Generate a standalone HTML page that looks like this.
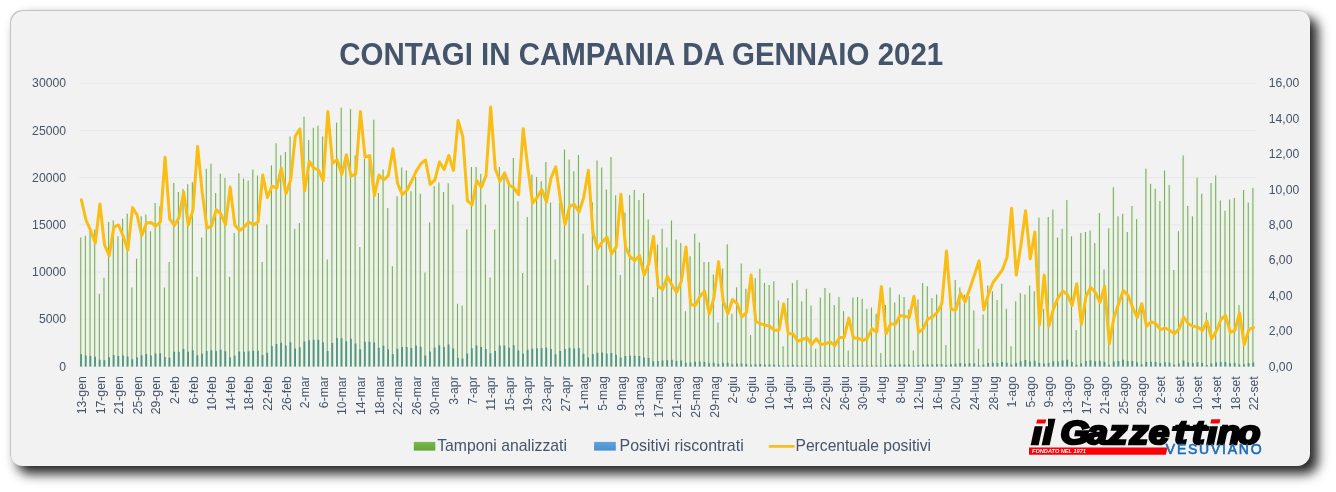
<!DOCTYPE html>
<html lang="it"><head><meta charset="utf-8"><title>Contagi in Campania da gennaio 2021</title>
<style>
html,body{margin:0;padding:0;background:#fff;}
body{width:1336px;height:492px;overflow:hidden;position:relative;font-family:"Liberation Sans",sans-serif;}
#card{position:absolute;left:10px;top:10px;width:1300px;height:455.5px;border-radius:12.5px;background:#f2f2f2;
 box-shadow:inset 1px 1px 0 0 #c2c2c2, 7.5px 7.5px 12px 0px rgba(0,0,0,.85);}
svg{position:absolute;left:0;top:0;}
text{font-family:"Liberation Sans",sans-serif;}
.ax{font-size:12.2px;fill:#44546a;}
.lg{font-size:15.7px;fill:#44546a;}
</style></head><body>
<div id="card"></div>
<svg width="1336" height="492" viewBox="0 0 1336 492">
<defs>
<linearGradient id="gg" x1="0" y1="0" x2="0" y2="1"><stop offset="0" stop-color="#7ab852"/><stop offset="1" stop-color="#63a436"/></linearGradient>
<linearGradient id="gb" x1="0" y1="0" x2="0" y2="1"><stop offset="0" stop-color="#62a3dc"/><stop offset="1" stop-color="#4a8ed1"/></linearGradient>
</defs>
<text x="339.2" y="64.8" font-size="31.3" font-weight="bold" fill="#44546a" textLength="604" lengthAdjust="spacingAndGlyphs">CONTAGI IN CAMPANIA DA GENNAIO 2021</text>
<line x1="79" x2="1255.7" y1="366.40" y2="366.40" stroke="#e4e7eb" stroke-width="1"/>
<line x1="79" x2="1255.7" y1="319.20" y2="319.20" stroke="#e4e7eb" stroke-width="1"/>
<line x1="79" x2="1255.7" y1="272.00" y2="272.00" stroke="#e4e7eb" stroke-width="1"/>
<line x1="79" x2="1255.7" y1="224.80" y2="224.80" stroke="#e4e7eb" stroke-width="1"/>
<line x1="79" x2="1255.7" y1="177.60" y2="177.60" stroke="#e4e7eb" stroke-width="1"/>
<line x1="79" x2="1255.7" y1="130.40" y2="130.40" stroke="#e4e7eb" stroke-width="1"/>
<line x1="79" x2="1255.7" y1="83.20" y2="83.20" stroke="#e4e7eb" stroke-width="1"/>
<text class="ax" x="66" y="370.65" text-anchor="end">0</text>
<text class="ax" x="66" y="323.45" text-anchor="end">5000</text>
<text class="ax" x="66" y="276.25" text-anchor="end">10000</text>
<text class="ax" x="66" y="229.05" text-anchor="end">15000</text>
<text class="ax" x="66" y="181.85" text-anchor="end">20000</text>
<text class="ax" x="66" y="134.65" text-anchor="end">25000</text>
<text class="ax" x="66" y="87.45" text-anchor="end">30000</text>
<text class="ax" x="1268.7" y="370.65">0,00</text>
<text class="ax" x="1268.7" y="335.25">2,00</text>
<text class="ax" x="1268.7" y="299.85">4,00</text>
<text class="ax" x="1268.7" y="264.45">6,00</text>
<text class="ax" x="1268.7" y="229.05">8,00</text>
<text class="ax" x="1268.7" y="193.65">10,00</text>
<text class="ax" x="1268.7" y="158.25">12,00</text>
<text class="ax" x="1268.7" y="122.85">14,00</text>
<text class="ax" x="1268.7" y="87.45">16,00</text>
<path fill="#e9f5e0" fill-opacity="0.62" d="M78.43 366.4V237.54h4.6V366.4zM83.08 366.4V235.79h4.6V366.4zM87.73 366.4V229.52h4.6V366.4zM92.38 366.4V229.52h4.6V366.4zM97.03 366.4V293.71h4.6V366.4zM101.68 366.4V277.66h4.6V366.4zM106.33 366.4V222.06h4.6V366.4zM110.99 366.4V220.55h4.6V366.4zM115.64 366.4V236.32h4.6V366.4zM120.29 366.4V218.85h4.6V366.4zM124.94 366.4V213.85h4.6V366.4zM129.59 366.4V287.48h4.6V366.4zM134.24 366.4V258.78h4.6V366.4zM138.90 366.4V216.30h4.6V366.4zM143.55 366.4V214.56h4.6V366.4zM148.20 366.4V231.31h4.6V366.4zM152.85 366.4V203.09h4.6V366.4zM157.50 366.4V206.30h4.6V366.4zM162.15 366.4V287.48h4.6V366.4zM166.80 366.4V261.99h4.6V366.4zM171.46 366.4V183.08h4.6V366.4zM176.11 366.4V192.09h4.6V366.4zM180.76 366.4V188.93h4.6V366.4zM185.41 366.4V184.21h4.6V366.4zM190.06 366.4V182.13h4.6V366.4zM194.71 366.4V276.72h4.6V366.4zM199.36 366.4V237.54h4.6V366.4zM204.02 366.4V168.87h4.6V366.4zM208.67 366.4V163.86h4.6V366.4zM213.32 366.4V193.08h4.6V366.4zM217.97 366.4V173.82h4.6V366.4zM222.62 366.4V178.07h4.6V366.4zM227.27 366.4V276.72h4.6V366.4zM231.93 366.4V233.01h4.6V366.4zM236.58 366.4V173.35h4.6V366.4zM241.23 366.4V178.83h4.6V366.4zM245.88 366.4V180.62h4.6V366.4zM250.53 366.4V169.58h4.6V366.4zM255.18 366.4V175.62h4.6V366.4zM259.83 366.4V261.99h4.6V366.4zM264.49 366.4V224.52h4.6V366.4zM269.14 366.4V165.14h4.6V366.4zM273.79 366.4V143.14h4.6V366.4zM278.44 366.4V155.13h4.6V366.4zM283.09 366.4V152.11h4.6V366.4zM287.74 366.4V136.39h4.6V366.4zM292.39 366.4V228.76h4.6V366.4zM297.05 366.4V223.05h4.6V366.4zM301.70 366.4V116.43h4.6V366.4zM306.35 366.4V140.12h4.6V366.4zM311.00 366.4V127.66h4.6V366.4zM315.65 366.4V125.87h4.6V366.4zM320.30 366.4V136.39h4.6V366.4zM324.96 366.4V259.54h4.6V366.4zM329.61 366.4V163.44h4.6V366.4zM334.26 366.4V122.66h4.6V366.4zM338.91 366.4V107.74h4.6V366.4zM343.56 366.4V156.83h4.6V366.4zM348.21 366.4V108.92h4.6V366.4zM352.86 366.4V155.60h4.6V366.4zM357.52 366.4V246.98h4.6V366.4zM362.17 366.4V158.72h4.6V366.4zM366.82 366.4V158.72h4.6V366.4zM371.47 366.4V119.64h4.6V366.4zM376.12 366.4V193.08h4.6V366.4zM380.77 366.4V169.58h4.6V366.4zM385.42 366.4V208.00h4.6V366.4zM390.08 366.4V266.34h4.6V366.4zM394.73 366.4V196.29h4.6V366.4zM399.38 366.4V167.50h4.6V366.4zM404.03 366.4V170.52h4.6V366.4zM408.68 366.4V191.29h4.6V366.4zM413.33 366.4V177.03h4.6V366.4zM417.99 366.4V193.74h4.6V366.4zM422.64 366.4V272.47h4.6V366.4zM427.29 366.4V222.53h4.6V366.4zM431.94 366.4V186.28h4.6V366.4zM436.59 366.4V182.51h4.6V366.4zM441.24 366.4V192.04h4.6V366.4zM445.89 366.4V183.26h4.6V366.4zM450.55 366.4V204.50h4.6V366.4zM455.20 366.4V303.72h4.6V366.4zM459.85 366.4V305.51h4.6V366.4zM464.50 366.4V229.52h4.6V366.4zM469.15 366.4V167.03h4.6V366.4zM473.80 366.4V167.03h4.6V366.4zM478.45 366.4V173.82h4.6V366.4zM483.11 366.4V204.50h4.6V366.4zM487.76 366.4V277.48h4.6V366.4zM492.41 366.4V229.52h4.6V366.4zM497.06 366.4V167.03h4.6V366.4zM501.71 366.4V176.28h4.6V366.4zM506.36 366.4V184.49h4.6V366.4zM511.02 366.4V158.01h4.6V366.4zM515.67 366.4V201.29h4.6V366.4zM520.32 366.4V273.04h4.6V366.4zM524.97 366.4V216.96h4.6V366.4zM529.62 366.4V174.48h4.6V366.4zM534.27 366.4V177.03h4.6V366.4zM538.92 366.4V181.28h4.6V366.4zM543.58 366.4V162.02h4.6V366.4zM548.23 366.4V202.52h4.6V366.4zM552.88 366.4V259.54h4.6V366.4zM557.53 366.4V202.52h4.6V366.4zM562.18 366.4V149.47h4.6V366.4zM566.83 366.4V159.48h4.6V366.4zM571.48 366.4V171.28h4.6V366.4zM576.14 366.4V155.04h4.6V366.4zM580.79 366.4V233.77h4.6V366.4zM585.44 366.4V285.22h4.6V366.4zM590.09 366.4V202.52h4.6V366.4zM594.74 366.4V160.51h4.6V366.4zM599.39 366.4V167.50h4.6V366.4zM604.05 366.4V189.49h4.6V366.4zM608.70 366.4V157.02h4.6V366.4zM613.35 366.4V195.25h4.6V366.4zM618.00 366.4V275.02h4.6V366.4zM622.65 366.4V212.53h4.6V366.4zM627.30 366.4V195.06h4.6V366.4zM631.95 366.4V189.97h4.6V366.4zM636.61 366.4V199.97h4.6V366.4zM641.26 366.4V192.99h4.6V366.4zM645.91 366.4V219.51h4.6V366.4zM650.56 366.4V297.02h4.6V366.4zM655.21 366.4V244.53h4.6V366.4zM659.86 366.4V228.76h4.6V366.4zM664.51 366.4V247.46h4.6V366.4zM669.17 366.4V220.46h4.6V366.4zM673.82 366.4V239.53h4.6V366.4zM678.47 366.4V243.02h4.6V366.4zM683.12 366.4V311.27h4.6V366.4zM687.77 366.4V256.24h4.6V366.4zM692.42 366.4V233.77h4.6V366.4zM697.08 366.4V242.45h4.6V366.4zM701.73 366.4V261.99h4.6V366.4zM706.38 366.4V261.99h4.6V366.4zM711.03 366.4V274.50h4.6V366.4zM715.68 366.4V322.50h4.6V366.4zM720.33 366.4V268.41h4.6V366.4zM724.98 366.4V244.15h4.6V366.4zM729.64 366.4V313.72h4.6V366.4zM734.29 366.4V287.29h4.6V366.4zM738.94 366.4V263.41h4.6V366.4zM743.59 366.4V288.76h4.6V366.4zM748.24 366.4V335.00h4.6V366.4zM752.89 366.4V278.04h4.6V366.4zM757.54 366.4V268.79h4.6V366.4zM762.20 366.4V283.00h4.6V366.4zM766.85 366.4V285.03h4.6V366.4zM771.50 366.4V281.25h4.6V366.4zM776.15 366.4V300.51h4.6V366.4zM780.80 366.4V346.25h4.6V366.4zM785.45 366.4V298.01h4.6V366.4zM790.11 366.4V283.00h4.6V366.4zM794.76 366.4V280.31h4.6V366.4zM799.41 366.4V301.26h4.6V366.4zM804.06 366.4V288.76h4.6V366.4zM808.71 366.4V305.51h4.6V366.4zM813.36 366.4V348.75h4.6V366.4zM818.01 366.4V297.49h4.6V366.4zM822.67 366.4V288.00h4.6V366.4zM827.32 366.4V293.00h4.6V366.4zM831.97 366.4V305.04h4.6V366.4zM836.62 366.4V297.02h4.6V366.4zM841.27 366.4V311.27h4.6V366.4zM845.92 366.4V350.49h4.6V366.4zM850.57 366.4V297.49h4.6V366.4zM855.23 366.4V297.02h4.6V366.4zM859.88 366.4V298.76h4.6V366.4zM864.53 366.4V308.72h4.6V366.4zM869.18 366.4V307.49h4.6V366.4zM873.83 366.4V313.72h4.6V366.4zM878.48 366.4V353.00h4.6V366.4zM883.14 366.4V305.04h4.6V366.4zM887.79 366.4V287.48h4.6V366.4zM892.44 366.4V302.49h4.6V366.4zM897.09 366.4V294.51h4.6V366.4zM901.74 366.4V297.02h4.6V366.4zM906.39 366.4V309.48h4.6V366.4zM911.04 366.4V350.49h4.6V366.4zM915.70 366.4V299.47h4.6V366.4zM920.35 366.4V283.00h4.6V366.4zM925.00 366.4V286.25h4.6V366.4zM929.65 366.4V298.01h4.6V366.4zM934.30 366.4V294.51h4.6V366.4zM938.95 366.4V302.21h4.6V366.4zM943.60 366.4V344.97h4.6V366.4zM948.26 366.4V300.32h4.6V366.4zM952.91 366.4V280.02h4.6V366.4zM957.56 366.4V287.48h4.6V366.4zM962.21 366.4V294.51h4.6V366.4zM966.86 366.4V296.26h4.6V366.4zM971.51 366.4V310.52h4.6V366.4zM976.17 366.4V348.75h4.6V366.4zM980.82 366.4V314.48h4.6V366.4zM985.47 366.4V285.50h4.6V366.4zM990.12 366.4V291.26h4.6V366.4zM994.77 366.4V300.04h4.6V366.4zM999.42 366.4V283.75h4.6V366.4zM1004.07 366.4V308.72h4.6V366.4zM1008.73 366.4V346.25h4.6V366.4zM1013.38 366.4V301.26h4.6V366.4zM1018.03 366.4V293.00h4.6V366.4zM1022.68 366.4V294.51h4.6V366.4zM1027.33 366.4V285.50h4.6V366.4zM1031.98 366.4V291.26h4.6V366.4zM1036.63 366.4V217.53h4.6V366.4zM1041.29 366.4V308.72h4.6V366.4zM1045.94 366.4V216.96h4.6V366.4zM1050.59 366.4V209.51h4.6V366.4zM1055.24 366.4V237.50h4.6V366.4zM1059.89 366.4V228.76h4.6V366.4zM1064.54 366.4V199.97h4.6V366.4zM1069.20 366.4V236.22h4.6V366.4zM1073.85 366.4V330.01h4.6V366.4zM1078.50 366.4V233.01h4.6V366.4zM1083.15 366.4V231.97h4.6V366.4zM1087.80 366.4V230.46h4.6V366.4zM1092.45 366.4V243.02h4.6V366.4zM1097.10 366.4V213.00h4.6V366.4zM1101.76 366.4V269.50h4.6V366.4zM1106.41 366.4V228.20h4.6V366.4zM1111.06 366.4V187.23h4.6V366.4zM1115.71 366.4V216.21h4.6V366.4zM1120.36 366.4V213.80h4.6V366.4zM1125.01 366.4V232.07h4.6V366.4zM1129.66 366.4V206.11h4.6V366.4zM1134.32 366.4V218.95h4.6V366.4zM1138.97 366.4V303.15h4.6V366.4zM1143.62 366.4V168.73h4.6V366.4zM1148.27 366.4V183.74h4.6V366.4zM1152.92 366.4V188.74h4.6V366.4zM1157.57 366.4V200.92h4.6V366.4zM1162.23 366.4V170.52h4.6V366.4zM1166.88 366.4V184.96h4.6V366.4zM1171.53 366.4V270.02h4.6V366.4zM1176.18 366.4V231.31h4.6V366.4zM1180.83 366.4V155.51h4.6V366.4zM1185.48 366.4V206.11h4.6V366.4zM1190.13 366.4V216.21h4.6V366.4zM1194.79 366.4V177.51h4.6V366.4zM1199.44 366.4V193.74h4.6V366.4zM1204.09 366.4V312.50h4.6V366.4zM1208.74 366.4V182.98h4.6V366.4zM1213.39 366.4V175.52h4.6V366.4zM1218.04 366.4V200.44h4.6V366.4zM1222.69 366.4V210.83h4.6V366.4zM1227.35 366.4V199.50h4.6V366.4zM1232.00 366.4V197.99h4.6V366.4zM1236.65 366.4V305.04h4.6V366.4zM1241.30 366.4V189.97h4.6V366.4zM1245.95 366.4V202.52h4.6V366.4zM1250.60 366.4V187.98h4.6V366.4z"/>
<path fill="#82a86c" d="M80.18 366.4V237.54h1.1V366.4zM84.83 366.4V235.79h1.1V366.4zM89.48 366.4V229.52h1.1V366.4zM94.13 366.4V229.52h1.1V366.4zM98.78 366.4V293.71h1.1V366.4zM103.43 366.4V277.66h1.1V366.4zM108.08 366.4V222.06h1.1V366.4zM112.74 366.4V220.55h1.1V366.4zM117.39 366.4V236.32h1.1V366.4zM122.04 366.4V218.85h1.1V366.4zM126.69 366.4V213.85h1.1V366.4zM131.34 366.4V287.48h1.1V366.4zM135.99 366.4V258.78h1.1V366.4zM140.65 366.4V216.30h1.1V366.4zM145.30 366.4V214.56h1.1V366.4zM149.95 366.4V231.31h1.1V366.4zM154.60 366.4V203.09h1.1V366.4zM159.25 366.4V206.30h1.1V366.4zM163.90 366.4V287.48h1.1V366.4zM168.55 366.4V261.99h1.1V366.4zM173.21 366.4V183.08h1.1V366.4zM177.86 366.4V192.09h1.1V366.4zM182.51 366.4V188.93h1.1V366.4zM187.16 366.4V184.21h1.1V366.4zM191.81 366.4V182.13h1.1V366.4zM196.46 366.4V276.72h1.1V366.4zM201.11 366.4V237.54h1.1V366.4zM205.77 366.4V168.87h1.1V366.4zM210.42 366.4V163.86h1.1V366.4zM215.07 366.4V193.08h1.1V366.4zM219.72 366.4V173.82h1.1V366.4zM224.37 366.4V178.07h1.1V366.4zM229.02 366.4V276.72h1.1V366.4zM233.68 366.4V233.01h1.1V366.4zM238.33 366.4V173.35h1.1V366.4zM242.98 366.4V178.83h1.1V366.4zM247.63 366.4V180.62h1.1V366.4zM252.28 366.4V169.58h1.1V366.4zM256.93 366.4V175.62h1.1V366.4zM261.58 366.4V261.99h1.1V366.4zM266.24 366.4V224.52h1.1V366.4zM270.89 366.4V165.14h1.1V366.4zM275.54 366.4V143.14h1.1V366.4zM280.19 366.4V155.13h1.1V366.4zM284.84 366.4V152.11h1.1V366.4zM289.49 366.4V136.39h1.1V366.4zM294.14 366.4V228.76h1.1V366.4zM298.80 366.4V223.05h1.1V366.4zM303.45 366.4V116.43h1.1V366.4zM308.10 366.4V140.12h1.1V366.4zM312.75 366.4V127.66h1.1V366.4zM317.40 366.4V125.87h1.1V366.4zM322.05 366.4V136.39h1.1V366.4zM326.71 366.4V259.54h1.1V366.4zM331.36 366.4V163.44h1.1V366.4zM336.01 366.4V122.66h1.1V366.4zM340.66 366.4V107.74h1.1V366.4zM345.31 366.4V156.83h1.1V366.4zM349.96 366.4V108.92h1.1V366.4zM354.61 366.4V155.60h1.1V366.4zM359.27 366.4V246.98h1.1V366.4zM363.92 366.4V158.72h1.1V366.4zM368.57 366.4V158.72h1.1V366.4zM373.22 366.4V119.64h1.1V366.4zM377.87 366.4V193.08h1.1V366.4zM382.52 366.4V169.58h1.1V366.4zM387.17 366.4V208.00h1.1V366.4zM391.83 366.4V266.34h1.1V366.4zM396.48 366.4V196.29h1.1V366.4zM401.13 366.4V167.50h1.1V366.4zM405.78 366.4V170.52h1.1V366.4zM410.43 366.4V191.29h1.1V366.4zM415.08 366.4V177.03h1.1V366.4zM419.74 366.4V193.74h1.1V366.4zM424.39 366.4V272.47h1.1V366.4zM429.04 366.4V222.53h1.1V366.4zM433.69 366.4V186.28h1.1V366.4zM438.34 366.4V182.51h1.1V366.4zM442.99 366.4V192.04h1.1V366.4zM447.64 366.4V183.26h1.1V366.4zM452.30 366.4V204.50h1.1V366.4zM456.95 366.4V303.72h1.1V366.4zM461.60 366.4V305.51h1.1V366.4zM466.25 366.4V229.52h1.1V366.4zM470.90 366.4V167.03h1.1V366.4zM475.55 366.4V167.03h1.1V366.4zM480.20 366.4V173.82h1.1V366.4zM484.86 366.4V204.50h1.1V366.4zM489.51 366.4V277.48h1.1V366.4zM494.16 366.4V229.52h1.1V366.4zM498.81 366.4V167.03h1.1V366.4zM503.46 366.4V176.28h1.1V366.4zM508.11 366.4V184.49h1.1V366.4zM512.77 366.4V158.01h1.1V366.4zM517.42 366.4V201.29h1.1V366.4zM522.07 366.4V273.04h1.1V366.4zM526.72 366.4V216.96h1.1V366.4zM531.37 366.4V174.48h1.1V366.4zM536.02 366.4V177.03h1.1V366.4zM540.67 366.4V181.28h1.1V366.4zM545.33 366.4V162.02h1.1V366.4zM549.98 366.4V202.52h1.1V366.4zM554.63 366.4V259.54h1.1V366.4zM559.28 366.4V202.52h1.1V366.4zM563.93 366.4V149.47h1.1V366.4zM568.58 366.4V159.48h1.1V366.4zM573.23 366.4V171.28h1.1V366.4zM577.89 366.4V155.04h1.1V366.4zM582.54 366.4V233.77h1.1V366.4zM587.19 366.4V285.22h1.1V366.4zM591.84 366.4V202.52h1.1V366.4zM596.49 366.4V160.51h1.1V366.4zM601.14 366.4V167.50h1.1V366.4zM605.80 366.4V189.49h1.1V366.4zM610.45 366.4V157.02h1.1V366.4zM615.10 366.4V195.25h1.1V366.4zM619.75 366.4V275.02h1.1V366.4zM624.40 366.4V212.53h1.1V366.4zM629.05 366.4V195.06h1.1V366.4zM633.70 366.4V189.97h1.1V366.4zM638.36 366.4V199.97h1.1V366.4zM643.01 366.4V192.99h1.1V366.4zM647.66 366.4V219.51h1.1V366.4zM652.31 366.4V297.02h1.1V366.4zM656.96 366.4V244.53h1.1V366.4zM661.61 366.4V228.76h1.1V366.4zM666.26 366.4V247.46h1.1V366.4zM670.92 366.4V220.46h1.1V366.4zM675.57 366.4V239.53h1.1V366.4zM680.22 366.4V243.02h1.1V366.4zM684.87 366.4V311.27h1.1V366.4zM689.52 366.4V256.24h1.1V366.4zM694.17 366.4V233.77h1.1V366.4zM698.83 366.4V242.45h1.1V366.4zM703.48 366.4V261.99h1.1V366.4zM708.13 366.4V261.99h1.1V366.4zM712.78 366.4V274.50h1.1V366.4zM717.43 366.4V322.50h1.1V366.4zM722.08 366.4V268.41h1.1V366.4zM726.73 366.4V244.15h1.1V366.4zM731.39 366.4V313.72h1.1V366.4zM736.04 366.4V287.29h1.1V366.4zM740.69 366.4V263.41h1.1V366.4zM745.34 366.4V288.76h1.1V366.4zM749.99 366.4V335.00h1.1V366.4zM754.64 366.4V278.04h1.1V366.4zM759.29 366.4V268.79h1.1V366.4zM763.95 366.4V283.00h1.1V366.4zM768.60 366.4V285.03h1.1V366.4zM773.25 366.4V281.25h1.1V366.4zM777.90 366.4V300.51h1.1V366.4zM782.55 366.4V346.25h1.1V366.4zM787.20 366.4V298.01h1.1V366.4zM791.86 366.4V283.00h1.1V366.4zM796.51 366.4V280.31h1.1V366.4zM801.16 366.4V301.26h1.1V366.4zM805.81 366.4V288.76h1.1V366.4zM810.46 366.4V305.51h1.1V366.4zM815.11 366.4V348.75h1.1V366.4zM819.76 366.4V297.49h1.1V366.4zM824.42 366.4V288.00h1.1V366.4zM829.07 366.4V293.00h1.1V366.4zM833.72 366.4V305.04h1.1V366.4zM838.37 366.4V297.02h1.1V366.4zM843.02 366.4V311.27h1.1V366.4zM847.67 366.4V350.49h1.1V366.4zM852.32 366.4V297.49h1.1V366.4zM856.98 366.4V297.02h1.1V366.4zM861.63 366.4V298.76h1.1V366.4zM866.28 366.4V308.72h1.1V366.4zM870.93 366.4V307.49h1.1V366.4zM875.58 366.4V313.72h1.1V366.4zM880.23 366.4V353.00h1.1V366.4zM884.89 366.4V305.04h1.1V366.4zM889.54 366.4V287.48h1.1V366.4zM894.19 366.4V302.49h1.1V366.4zM898.84 366.4V294.51h1.1V366.4zM903.49 366.4V297.02h1.1V366.4zM908.14 366.4V309.48h1.1V366.4zM912.79 366.4V350.49h1.1V366.4zM917.45 366.4V299.47h1.1V366.4zM922.10 366.4V283.00h1.1V366.4zM926.75 366.4V286.25h1.1V366.4zM931.40 366.4V298.01h1.1V366.4zM936.05 366.4V294.51h1.1V366.4zM940.70 366.4V302.21h1.1V366.4zM945.35 366.4V344.97h1.1V366.4zM950.01 366.4V300.32h1.1V366.4zM954.66 366.4V280.02h1.1V366.4zM959.31 366.4V287.48h1.1V366.4zM963.96 366.4V294.51h1.1V366.4zM968.61 366.4V296.26h1.1V366.4zM973.26 366.4V310.52h1.1V366.4zM977.92 366.4V348.75h1.1V366.4zM982.57 366.4V314.48h1.1V366.4zM987.22 366.4V285.50h1.1V366.4zM991.87 366.4V291.26h1.1V366.4zM996.52 366.4V300.04h1.1V366.4zM1001.17 366.4V283.75h1.1V366.4zM1005.82 366.4V308.72h1.1V366.4zM1010.48 366.4V346.25h1.1V366.4zM1015.13 366.4V301.26h1.1V366.4zM1019.78 366.4V293.00h1.1V366.4zM1024.43 366.4V294.51h1.1V366.4zM1029.08 366.4V285.50h1.1V366.4zM1033.73 366.4V291.26h1.1V366.4zM1038.38 366.4V217.53h1.1V366.4zM1043.04 366.4V308.72h1.1V366.4zM1047.69 366.4V216.96h1.1V366.4zM1052.34 366.4V209.51h1.1V366.4zM1056.99 366.4V237.50h1.1V366.4zM1061.64 366.4V228.76h1.1V366.4zM1066.29 366.4V199.97h1.1V366.4zM1070.95 366.4V236.22h1.1V366.4zM1075.60 366.4V330.01h1.1V366.4zM1080.25 366.4V233.01h1.1V366.4zM1084.90 366.4V231.97h1.1V366.4zM1089.55 366.4V230.46h1.1V366.4zM1094.20 366.4V243.02h1.1V366.4zM1098.85 366.4V213.00h1.1V366.4zM1103.51 366.4V269.50h1.1V366.4zM1108.16 366.4V228.20h1.1V366.4zM1112.81 366.4V187.23h1.1V366.4zM1117.46 366.4V216.21h1.1V366.4zM1122.11 366.4V213.80h1.1V366.4zM1126.76 366.4V232.07h1.1V366.4zM1131.41 366.4V206.11h1.1V366.4zM1136.07 366.4V218.95h1.1V366.4zM1140.72 366.4V303.15h1.1V366.4zM1145.37 366.4V168.73h1.1V366.4zM1150.02 366.4V183.74h1.1V366.4zM1154.67 366.4V188.74h1.1V366.4zM1159.32 366.4V200.92h1.1V366.4zM1163.98 366.4V170.52h1.1V366.4zM1168.63 366.4V184.96h1.1V366.4zM1173.28 366.4V270.02h1.1V366.4zM1177.93 366.4V231.31h1.1V366.4zM1182.58 366.4V155.51h1.1V366.4zM1187.23 366.4V206.11h1.1V366.4zM1191.88 366.4V216.21h1.1V366.4zM1196.54 366.4V177.51h1.1V366.4zM1201.19 366.4V193.74h1.1V366.4zM1205.84 366.4V312.50h1.1V366.4zM1210.49 366.4V182.98h1.1V366.4zM1215.14 366.4V175.52h1.1V366.4zM1219.79 366.4V200.44h1.1V366.4zM1224.44 366.4V210.83h1.1V366.4zM1229.10 366.4V199.50h1.1V366.4zM1233.75 366.4V197.99h1.1V366.4zM1238.40 366.4V305.04h1.1V366.4zM1243.05 366.4V189.97h1.1V366.4zM1247.70 366.4V202.52h1.1V366.4zM1252.35 366.4V187.98h1.1V366.4z"/>
<path fill="#539488" d="M80.23 366.4V354.26h1.8V366.4zM84.88 366.4V355.60h1.8V366.4zM89.53 366.4V355.89h1.8V366.4zM94.18 366.4V356.86h1.8V366.4zM98.83 366.4V359.73h1.8V366.4zM103.48 366.4V360.31h1.8V366.4zM108.13 366.4V357.36h1.8V366.4zM112.79 366.4V354.92h1.8V366.4zM117.44 366.4V356.01h1.8V366.4zM122.09 366.4V355.56h1.8V366.4zM126.74 366.4V356.38h1.8V366.4zM131.39 366.4V359.32h1.8V366.4zM136.04 366.4V357.20h1.8V366.4zM140.70 366.4V355.31h1.8V366.4zM145.35 366.4V354.10h1.8V366.4zM150.00 366.4V355.42h1.8V366.4zM154.65 366.4V353.47h1.8V366.4zM159.30 366.4V353.34h1.8V366.4zM163.95 366.4V357.07h1.8V366.4zM168.60 366.4V357.69h1.8V366.4zM173.26 366.4V351.81h1.8V366.4zM177.91 366.4V351.74h1.8V366.4zM182.56 366.4V348.92h1.8V366.4zM187.21 366.4V351.84h1.8V366.4zM191.86 366.4V350.13h1.8V366.4zM196.51 366.4V355.25h1.8V366.4zM201.16 366.4V353.77h1.8V366.4zM205.82 366.4V350.95h1.8V366.4zM210.47 366.4V350.36h1.8V366.4zM215.12 366.4V351.04h1.8V366.4zM219.77 366.4V349.80h1.8V366.4zM224.42 366.4V351.31h1.8V366.4zM229.07 366.4V357.32h1.8V366.4zM233.73 366.4V355.74h1.8V366.4zM238.38 366.4V351.57h1.8V366.4zM243.03 366.4V351.64h1.8V366.4zM247.68 366.4V351.24h1.8V366.4zM252.33 366.4V350.67h1.8V366.4zM256.98 366.4V350.83h1.8V366.4zM261.63 366.4V355.11h1.8V366.4zM266.29 366.4V352.86h1.8V366.4zM270.94 366.4V345.89h1.8V366.4zM275.59 366.4V343.92h1.8V366.4zM280.24 366.4V342.74h1.8V366.4zM284.89 366.4V345.51h1.8V366.4zM289.54 366.4V342.18h1.8V366.4zM294.19 366.4V348.51h1.8V366.4zM298.85 366.4V347.16h1.8V366.4zM303.50 366.4V341.60h1.8V366.4zM308.15 366.4V340.20h1.8V366.4zM312.80 366.4V339.66h1.8V366.4zM317.45 366.4V339.73h1.8V366.4zM322.10 366.4V342.25h1.8V366.4zM326.76 366.4V351.01h1.8V366.4zM331.41 366.4V343.10h1.8V366.4zM336.06 366.4V337.93h1.8V366.4zM340.71 366.4V338.36h1.8V366.4zM345.36 366.4V341.34h1.8V366.4zM350.01 366.4V338.75h1.8V366.4zM354.66 366.4V343.47h1.8V366.4zM359.32 366.4V349.20h1.8V366.4zM363.97 366.4V341.85h1.8V366.4zM368.62 366.4V341.67h1.8V366.4zM373.27 366.4V342.59h1.8V366.4zM377.92 366.4V347.66h1.8V366.4zM382.57 366.4V345.67h1.8V366.4zM387.22 366.4V349.32h1.8V366.4zM391.88 366.4V354.09h1.8V366.4zM396.53 366.4V348.84h1.8V366.4zM401.18 366.4V347.11h1.8V366.4zM405.83 366.4V346.91h1.8V366.4zM410.48 366.4V348.08h1.8V366.4zM415.13 366.4V345.51h1.8V366.4zM419.79 366.4V346.63h1.8V366.4zM424.44 366.4V355.45h1.8V366.4zM429.09 366.4V351.61h1.8V366.4zM433.74 366.4V347.45h1.8V366.4zM438.39 366.4V345.16h1.8V366.4zM443.04 366.4V347.01h1.8V366.4zM447.69 366.4V344.57h1.8V366.4zM452.35 366.4V348.48h1.8V366.4zM457.00 366.4V357.69h1.8V366.4zM461.65 366.4V358.48h1.8V366.4zM466.30 366.4V353.57h1.8V366.4zM470.95 366.4V348.22h1.8V366.4zM475.60 366.4V345.47h1.8V366.4zM480.25 366.4V346.89h1.8V366.4zM484.91 366.4V348.95h1.8V366.4zM489.56 366.4V353.37h1.8V366.4zM494.21 366.4V351.11h1.8V366.4zM498.86 366.4V345.55h1.8V366.4zM503.51 366.4V345.62h1.8V366.4zM508.16 366.4V347.75h1.8V366.4zM512.82 366.4V345.37h1.8V366.4zM517.47 366.4V350.38h1.8V366.4zM522.12 366.4V353.86h1.8V366.4zM526.77 366.4V349.63h1.8V366.4zM531.42 366.4V348.69h1.8V366.4zM536.07 366.4V348.33h1.8V366.4zM540.72 366.4V347.91h1.8V366.4zM545.38 366.4V347.41h1.8V366.4zM550.03 366.4V348.91h1.8V366.4zM554.68 366.4V354.36h1.8V366.4zM559.33 366.4V351.00h1.8V366.4zM563.98 366.4V349.00h1.8V366.4zM568.63 366.4V347.67h1.8V366.4zM573.28 366.4V348.55h1.8V366.4zM577.94 366.4V347.97h1.8V366.4zM582.59 366.4V353.75h1.8V366.4zM587.24 366.4V357.40h1.8V366.4zM591.89 366.4V354.01h1.8V366.4zM596.54 366.4V352.71h1.8V366.4zM601.19 366.4V352.42h1.8V366.4zM605.85 366.4V353.47h1.8V366.4zM610.50 366.4V353.08h1.8V366.4zM615.15 366.4V354.85h1.8V366.4zM619.80 366.4V357.51h1.8V366.4zM624.45 366.4V356.01h1.8V366.4zM629.10 366.4V355.81h1.8V366.4zM633.75 366.4V355.85h1.8V366.4zM638.41 366.4V355.97h1.8V366.4zM643.06 366.4V357.45h1.8V366.4zM647.71 366.4V357.88h1.8V366.4zM652.36 366.4V361.30h1.8V366.4zM657.01 366.4V360.88h1.8V366.4zM661.66 366.4V360.43h1.8V366.4zM666.31 366.4V360.35h1.8V366.4zM670.97 366.4V359.73h1.8V366.4zM675.62 366.4V361.07h1.8V366.4zM680.27 366.4V360.47h1.8V366.4zM684.92 366.4V362.68h1.8V366.4zM689.57 366.4V362.54h1.8V366.4zM694.22 366.4V361.84h1.8V366.4zM698.88 366.4V361.49h1.8V366.4zM703.53 366.4V361.96h1.8V366.4zM708.18 366.4V363.30h1.8V366.4zM712.83 366.4V362.83h1.8V366.4zM717.48 366.4V363.80h1.8V366.4zM722.13 366.4V362.79h1.8V366.4zM726.78 366.4V362.77h1.8V366.4zM731.44 366.4V364.41h1.8V366.4zM736.09 366.4V363.60h1.8V366.4zM740.74 366.4V363.53h1.8V366.4zM745.39 366.4V364.03h1.8V366.4zM750.04 366.4V364.78h1.8V366.4zM754.69 366.4V364.15h1.8V366.4zM759.34 366.4V364.05h1.8V366.4zM764.00 366.4V364.45h1.8V366.4zM768.65 366.4V364.55h1.8V366.4zM773.30 366.4V364.67h1.8V366.4zM777.95 366.4V365.04h1.8V366.4zM782.60 366.4V365.69h1.8V366.4zM787.25 366.4V365.14h1.8V366.4zM791.91 366.4V364.87h1.8V366.4zM796.56 366.4V365.18h1.8V366.4zM801.21 366.4V365.41h1.8V366.4zM805.86 366.4V365.13h1.8V366.4zM810.51 366.4V365.64h1.8V366.4zM815.16 366.4V366.12h1.8V366.4zM819.81 366.4V365.55h1.8V366.4zM824.47 366.4V365.40h1.8V366.4zM829.12 366.4V365.39h1.8V366.4zM833.77 366.4V365.68h1.8V366.4zM838.42 366.4V365.27h1.8V366.4zM843.07 366.4V365.50h1.8V366.4zM847.72 366.4V365.97h1.8V366.4zM852.37 366.4V365.30h1.8V366.4zM857.03 366.4V365.29h1.8V366.4zM861.68 366.4V365.41h1.8V366.4zM866.33 366.4V365.48h1.8V366.4zM870.98 366.4V365.15h1.8V366.4zM875.63 366.4V365.38h1.8V366.4zM880.28 366.4V365.80h1.8V366.4zM884.94 366.4V365.27h1.8V366.4zM889.59 366.4V364.50h1.8V366.4zM894.24 366.4V364.89h1.8V366.4zM898.89 366.4V364.33h1.8V366.4zM903.54 366.4V364.44h1.8V366.4zM908.19 366.4V364.83h1.8V366.4zM912.84 366.4V365.77h1.8V366.4zM917.50 366.4V365.11h1.8V366.4zM922.15 366.4V364.62h1.8V366.4zM926.80 366.4V364.24h1.8V366.4zM931.45 366.4V364.49h1.8V366.4zM936.10 366.4V364.21h1.8V366.4zM940.75 366.4V364.13h1.8V366.4zM945.40 366.4V365.00h1.8V366.4zM950.06 366.4V364.28h1.8V366.4zM954.71 366.4V363.64h1.8V366.4zM959.36 366.4V363.12h1.8V366.4zM964.01 366.4V363.78h1.8V366.4zM968.66 366.4V363.32h1.8V366.4zM973.31 366.4V363.52h1.8V366.4zM977.97 366.4V365.35h1.8V366.4zM982.62 366.4V364.74h1.8V366.4zM987.27 366.4V363.12h1.8V366.4zM991.92 366.4V362.84h1.8V366.4zM996.57 366.4V363.02h1.8V366.4zM1001.22 366.4V361.90h1.8V366.4zM1005.87 366.4V362.85h1.8V366.4zM1010.53 366.4V364.60h1.8V366.4zM1015.18 366.4V363.04h1.8V366.4zM1019.83 366.4V361.37h1.8V366.4zM1024.48 366.4V360.08h1.8V366.4zM1029.13 366.4V361.48h1.8V366.4zM1033.78 366.4V360.70h1.8V366.4zM1038.43 366.4V362.92h1.8V366.4zM1043.09 366.4V363.42h1.8V366.4zM1047.74 366.4V363.01h1.8V366.4zM1052.39 366.4V361.29h1.8V366.4zM1057.04 366.4V361.39h1.8V366.4zM1061.69 366.4V360.55h1.8V366.4zM1066.34 366.4V359.64h1.8V366.4zM1071.00 366.4V361.92h1.8V366.4zM1075.65 366.4V364.70h1.8V366.4zM1080.30 366.4V363.24h1.8V366.4zM1084.95 366.4V361.08h1.8V366.4zM1089.60 366.4V360.34h1.8V366.4zM1094.25 366.4V361.24h1.8V366.4zM1098.90 366.4V360.86h1.8V366.4zM1103.56 366.4V362.01h1.8V366.4zM1108.21 366.4V364.63h1.8V366.4zM1112.86 366.4V361.45h1.8V366.4zM1117.51 366.4V361.08h1.8V366.4zM1122.16 366.4V359.85h1.8V366.4zM1126.81 366.4V360.99h1.8V366.4zM1131.46 366.4V361.06h1.8V366.4zM1136.12 366.4V362.33h1.8V366.4zM1140.77 366.4V364.16h1.8V366.4zM1145.42 366.4V361.91h1.8V366.4zM1150.07 366.4V361.82h1.8V366.4zM1154.72 366.4V362.12h1.8V366.4zM1159.37 366.4V362.96h1.8V366.4zM1164.03 366.4V362.15h1.8V366.4zM1168.68 366.4V362.72h1.8V366.4zM1173.33 366.4V364.63h1.8V366.4zM1177.98 366.4V363.52h1.8V366.4zM1182.63 366.4V360.52h1.8V366.4zM1187.28 366.4V362.54h1.8V366.4zM1191.93 366.4V362.99h1.8V366.4zM1196.59 366.4V362.19h1.8V366.4zM1201.24 366.4V362.90h1.8V366.4zM1205.89 366.4V365.03h1.8V366.4zM1210.54 366.4V363.54h1.8V366.4zM1215.19 366.4V362.60h1.8V366.4zM1219.84 366.4V362.00h1.8V366.4zM1224.49 366.4V361.92h1.8V366.4zM1229.15 366.4V363.20h1.8V366.4zM1233.80 366.4V362.98h1.8V366.4zM1238.45 366.4V364.55h1.8V366.4zM1243.10 366.4V364.21h1.8V366.4zM1247.75 366.4V362.99h1.8V366.4zM1252.40 366.4V362.47h1.8V366.4z"/>
<polyline fill="none" stroke="#f9bd14" stroke-width="3" stroke-linejoin="round" stroke-linecap="round" points="81.33,199.67 85.98,220.02 90.63,230.46 95.28,243.03 99.93,203.91 104.58,244.98 109.23,255.60 113.89,227.10 118.54,224.98 123.19,236.30 127.84,250.11 132.49,207.63 137.14,215.06 141.80,235.60 146.45,223.03 151.10,222.50 155.75,226.22 160.40,221.97 165.05,157.19 169.70,218.78 174.36,225.51 179.01,217.54 183.66,192.05 188.31,224.98 192.96,210.11 197.61,146.39 202.26,192.94 206.92,227.99 211.57,226.22 216.22,209.58 220.87,213.83 225.52,224.62 230.17,187.10 234.83,224.98 239.48,230.46 244.13,227.10 248.78,221.97 253.43,224.98 258.08,221.97 262.73,175.06 267.39,197.54 272.04,186.04 276.69,188.16 281.34,168.16 285.99,193.82 290.64,180.02 295.29,136.30 299.95,128.87 304.60,190.82 309.25,161.43 313.90,168.16 318.55,170.11 323.20,180.55 327.86,111.52 332.51,163.20 337.16,159.66 341.81,174.53 346.46,154.71 351.11,176.30 355.76,173.82 360.42,111.52 365.07,157.19 369.72,155.59 374.37,195.59 379.02,175.06 383.67,180.02 388.32,175.59 392.98,148.69 397.63,183.74 402.28,194.71 406.93,190.28 411.58,181.26 416.23,171.17 420.89,163.73 425.54,160.02 430.19,184.44 434.84,180.20 439.49,161.96 444.14,169.58 448.79,155.42 453.45,170.46 458.10,120.55 462.75,136.30 467.40,200.55 472.05,204.98 476.70,180.55 481.35,187.10 486.01,175.59 490.66,107.09 495.31,168.69 499.96,181.26 504.61,172.94 509.26,184.97 513.92,187.81 518.57,194.71 523.22,128.69 527.87,167.81 532.52,203.03 537.17,197.54 541.82,189.58 546.48,201.97 551.13,177.54 555.78,166.92 560.43,200.02 565.08,224.45 569.73,206.21 574.38,204.44 579.04,212.06 583.69,197.54 588.34,170.28 592.99,232.59 597.64,248.69 602.29,241.97 606.95,237.01 611.60,253.83 616.25,246.92 620.90,194.18 625.55,246.92 630.20,257.01 634.85,260.55 639.51,255.42 644.16,275.07 648.81,263.74 653.46,236.30 658.11,286.22 662.76,289.58 667.41,276.31 672.07,285.51 676.72,292.06 681.37,281.26 686.02,246.92 690.67,304.45 695.32,305.51 699.98,296.31 704.63,291.17 709.28,313.83 713.93,297.55 718.58,261.62 723.23,301.26 727.88,313.83 732.54,299.49 737.19,303.74 741.84,317.02 746.49,312.41 751.14,274.89 755.79,321.26 760.44,323.74 765.10,324.98 769.75,326.22 774.40,330.47 779.05,329.94 783.70,303.74 788.35,333.83 793.01,333.83 797.66,341.27 802.31,339.50 806.96,337.55 811.61,344.45 816.26,338.79 820.91,344.45 825.57,343.74 830.22,341.97 834.87,345.51 839.52,337.55 844.17,337.55 848.82,318.08 853.47,338.08 858.13,338.08 862.78,340.56 867.43,338.08 872.08,328.70 876.73,332.06 881.38,286.57 886.04,333.83 890.69,323.74 895.34,324.45 899.99,315.42 904.64,316.31 909.29,317.55 913.94,296.31 918.60,332.42 923.25,328.70 927.90,318.79 932.55,317.02 937.20,312.41 941.85,303.74 946.50,251.00 951.16,309.58 955.81,309.94 960.46,292.94 965.11,301.97 969.76,288.70 974.41,275.07 979.07,260.91 983.72,309.94 988.37,294.54 993.02,282.50 997.67,276.31 1002.32,269.93 1006.97,257.54 1011.63,208.34 1016.28,275.07 1020.93,244.98 1025.58,210.82 1030.23,258.78 1034.88,232.06 1039.53,324.98 1044.19,275.07 1048.84,326.22 1053.49,308.70 1058.14,297.55 1062.79,291.17 1067.44,294.54 1072.10,305.51 1076.75,283.74 1081.40,324.45 1086.05,296.31 1090.70,287.46 1095.35,292.41 1100.00,302.50 1104.66,286.22 1109.31,343.74 1113.96,317.55 1118.61,303.74 1123.26,290.47 1127.91,295.07 1132.56,307.46 1137.22,317.55 1141.87,303.74 1146.52,326.22 1151.17,321.97 1155.82,323.74 1160.47,329.58 1165.13,327.99 1169.78,330.47 1174.43,333.83 1179.08,328.70 1183.73,317.02 1188.38,323.74 1193.03,326.22 1197.69,326.93 1202.34,330.47 1206.99,321.26 1211.64,338.79 1216.29,331.18 1220.94,319.50 1225.59,315.42 1230.25,332.42 1234.90,330.47 1239.55,312.95 1244.20,344.45 1248.85,329.58 1253.50,327.46"/>
<text class="ax" transform="translate(85.93 376.3) rotate(-90)" text-anchor="end">13-gen</text>
<text class="ax" transform="translate(104.53 376.3) rotate(-90)" text-anchor="end">17-gen</text>
<text class="ax" transform="translate(123.14 376.3) rotate(-90)" text-anchor="end">21-gen</text>
<text class="ax" transform="translate(141.74 376.3) rotate(-90)" text-anchor="end">25-gen</text>
<text class="ax" transform="translate(160.35 376.3) rotate(-90)" text-anchor="end">29-gen</text>
<text class="ax" transform="translate(178.96 376.3) rotate(-90)" text-anchor="end">2-feb</text>
<text class="ax" transform="translate(197.56 376.3) rotate(-90)" text-anchor="end">6-feb</text>
<text class="ax" transform="translate(216.17 376.3) rotate(-90)" text-anchor="end">10-feb</text>
<text class="ax" transform="translate(234.77 376.3) rotate(-90)" text-anchor="end">14-feb</text>
<text class="ax" transform="translate(253.38 376.3) rotate(-90)" text-anchor="end">18-feb</text>
<text class="ax" transform="translate(271.99 376.3) rotate(-90)" text-anchor="end">22-feb</text>
<text class="ax" transform="translate(290.59 376.3) rotate(-90)" text-anchor="end">26-feb</text>
<text class="ax" transform="translate(309.20 376.3) rotate(-90)" text-anchor="end">2-mar</text>
<text class="ax" transform="translate(327.80 376.3) rotate(-90)" text-anchor="end">6-mar</text>
<text class="ax" transform="translate(346.41 376.3) rotate(-90)" text-anchor="end">10-mar</text>
<text class="ax" transform="translate(365.02 376.3) rotate(-90)" text-anchor="end">14-mar</text>
<text class="ax" transform="translate(383.62 376.3) rotate(-90)" text-anchor="end">18-mar</text>
<text class="ax" transform="translate(402.23 376.3) rotate(-90)" text-anchor="end">22-mar</text>
<text class="ax" transform="translate(420.83 376.3) rotate(-90)" text-anchor="end">26-mar</text>
<text class="ax" transform="translate(439.44 376.3) rotate(-90)" text-anchor="end">30-mar</text>
<text class="ax" transform="translate(458.05 376.3) rotate(-90)" text-anchor="end">3-apr</text>
<text class="ax" transform="translate(476.65 376.3) rotate(-90)" text-anchor="end">7-apr</text>
<text class="ax" transform="translate(495.26 376.3) rotate(-90)" text-anchor="end">11-apr</text>
<text class="ax" transform="translate(513.86 376.3) rotate(-90)" text-anchor="end">15-apr</text>
<text class="ax" transform="translate(532.47 376.3) rotate(-90)" text-anchor="end">19-apr</text>
<text class="ax" transform="translate(551.08 376.3) rotate(-90)" text-anchor="end">23-apr</text>
<text class="ax" transform="translate(569.68 376.3) rotate(-90)" text-anchor="end">27-apr</text>
<text class="ax" transform="translate(588.29 376.3) rotate(-90)" text-anchor="end">1-mag</text>
<text class="ax" transform="translate(606.89 376.3) rotate(-90)" text-anchor="end">5-mag</text>
<text class="ax" transform="translate(625.50 376.3) rotate(-90)" text-anchor="end">9-mag</text>
<text class="ax" transform="translate(644.11 376.3) rotate(-90)" text-anchor="end">13-mag</text>
<text class="ax" transform="translate(662.71 376.3) rotate(-90)" text-anchor="end">17-mag</text>
<text class="ax" transform="translate(681.32 376.3) rotate(-90)" text-anchor="end">21-mag</text>
<text class="ax" transform="translate(699.92 376.3) rotate(-90)" text-anchor="end">25-mag</text>
<text class="ax" transform="translate(718.53 376.3) rotate(-90)" text-anchor="end">29-mag</text>
<text class="ax" transform="translate(737.14 376.3) rotate(-90)" text-anchor="end">2-giu</text>
<text class="ax" transform="translate(755.74 376.3) rotate(-90)" text-anchor="end">6-giu</text>
<text class="ax" transform="translate(774.35 376.3) rotate(-90)" text-anchor="end">10-giu</text>
<text class="ax" transform="translate(792.95 376.3) rotate(-90)" text-anchor="end">14-giu</text>
<text class="ax" transform="translate(811.56 376.3) rotate(-90)" text-anchor="end">18-giu</text>
<text class="ax" transform="translate(830.17 376.3) rotate(-90)" text-anchor="end">22-giu</text>
<text class="ax" transform="translate(848.77 376.3) rotate(-90)" text-anchor="end">26-giu</text>
<text class="ax" transform="translate(867.38 376.3) rotate(-90)" text-anchor="end">30-giu</text>
<text class="ax" transform="translate(885.98 376.3) rotate(-90)" text-anchor="end">4-lug</text>
<text class="ax" transform="translate(904.59 376.3) rotate(-90)" text-anchor="end">8-lug</text>
<text class="ax" transform="translate(923.20 376.3) rotate(-90)" text-anchor="end">12-lug</text>
<text class="ax" transform="translate(941.80 376.3) rotate(-90)" text-anchor="end">16-lug</text>
<text class="ax" transform="translate(960.41 376.3) rotate(-90)" text-anchor="end">20-lug</text>
<text class="ax" transform="translate(979.01 376.3) rotate(-90)" text-anchor="end">24-lug</text>
<text class="ax" transform="translate(997.62 376.3) rotate(-90)" text-anchor="end">28-lug</text>
<text class="ax" transform="translate(1016.23 376.3) rotate(-90)" text-anchor="end">1-ago</text>
<text class="ax" transform="translate(1034.83 376.3) rotate(-90)" text-anchor="end">5-ago</text>
<text class="ax" transform="translate(1053.44 376.3) rotate(-90)" text-anchor="end">9-ago</text>
<text class="ax" transform="translate(1072.04 376.3) rotate(-90)" text-anchor="end">13-ago</text>
<text class="ax" transform="translate(1090.65 376.3) rotate(-90)" text-anchor="end">17-ago</text>
<text class="ax" transform="translate(1109.26 376.3) rotate(-90)" text-anchor="end">21-ago</text>
<text class="ax" transform="translate(1127.86 376.3) rotate(-90)" text-anchor="end">25-ago</text>
<text class="ax" transform="translate(1146.47 376.3) rotate(-90)" text-anchor="end">29-ago</text>
<text class="ax" transform="translate(1165.07 376.3) rotate(-90)" text-anchor="end">2-set</text>
<text class="ax" transform="translate(1183.68 376.3) rotate(-90)" text-anchor="end">6-set</text>
<text class="ax" transform="translate(1202.29 376.3) rotate(-90)" text-anchor="end">10-set</text>
<text class="ax" transform="translate(1220.89 376.3) rotate(-90)" text-anchor="end">14-set</text>
<text class="ax" transform="translate(1239.50 376.3) rotate(-90)" text-anchor="end">18-set</text>
<text class="ax" transform="translate(1258.10 376.3) rotate(-90)" text-anchor="end">22-set</text>
<rect x="413.8" y="441.9" width="21.5" height="8.7" fill="url(#gg)"/>
<text class="lg" x="437.2" y="450.9" textLength="129.8" lengthAdjust="spacingAndGlyphs">Tamponi analizzati</text>
<rect x="594.1" y="441.9" width="21.7" height="8.7" fill="url(#gb)"/>
<text class="lg" x="619.5" y="451" textLength="124.2" lengthAdjust="spacingAndGlyphs">Positivi riscontrati</text>
<line x1="770" x2="793.5" y1="446.4" y2="446.4" stroke="#f3c021" stroke-width="2.8" stroke-linecap="round"/>
<text class="lg" x="795.5" y="451" textLength="135.5" lengthAdjust="spacingAndGlyphs">Percentuale positivi</text>
<g id="logo">
<text transform="scale(1.13 1)" x="913.10 922.74 930.97 938.51 962.20 981.26 999.84 1016.63 1039.28 1054.95 1068.05 1077.50 1095.38" y="444" font-size="32.8" font-weight="bold" font-style="italic" fill="#000" stroke="#000" stroke-width="2.6">il Gazzettino</text>
<path d="M1172.8 426h37l-1.2 5h-37z" fill="#000"/>
<path d="M1034 417h14v9.3h-14z M1208 417h14v9.3h-14z" fill="#f2f2f2"/>
<path d="M1037.2 419.4h9l-1 4h-9z M1211.4 419.2h9l-1 4.2h-9z" fill="#fb0007"/>
<path d="M1029 447.6H1167.6L1165.8 454.7H1029z" fill="#fb0007"/>
<text x="1032" y="453.2" font-size="5.5" font-weight="bold" font-style="italic" fill="#fff" textLength="54" lengthAdjust="spacingAndGlyphs">FONDATO NEL 1971</text>
<text x="1165.8" y="454.4" font-size="14" fill="#1c6db8" stroke="#1c6db8" stroke-width="0.6" textLength="95.8" lengthAdjust="spacing">VESUVIANO</text>
</g>
</svg></body></html>
